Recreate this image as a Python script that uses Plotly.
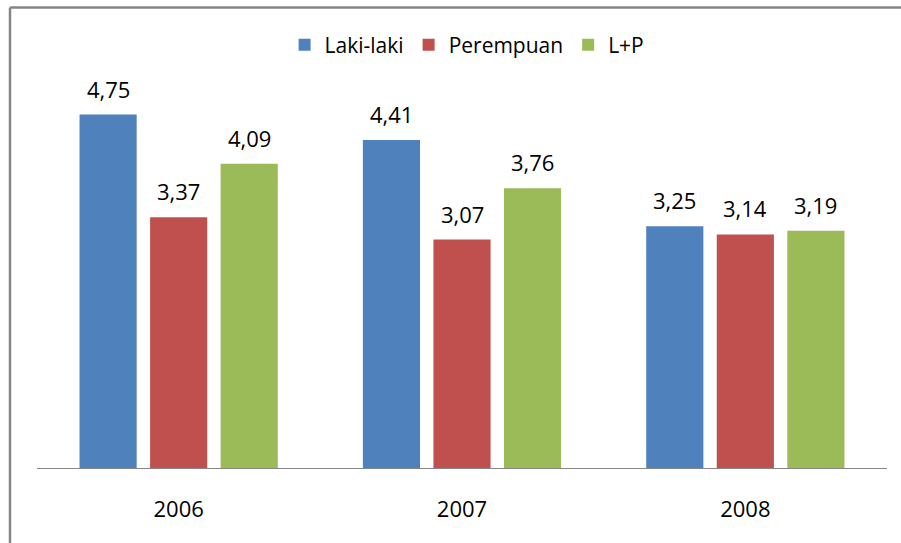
import plotly.graph_objects as go

years = ["2006", "2007", "2008"]
series_names = ["Laki-laki", "Perempuan", "L+P"]
laki = [4.75, 4.41, 3.25]
perempuan = [3.37, 3.07, 3.14]
lp = [4.09, 3.76, 3.19]
colors = ["#4F81BD", "#C0504D", "#9BBB59"]

all_series = [laki, perempuan, lp]

W, H = 901, 543
ml, mr, mt, mb = 37, 14, 96, 75
plot_w = W - ml - mr
cat_w = plot_w / len(years)
bargap = 0.253
slot = cat_w * (1 - bargap) / 3

FONT = "Open Sans"

fig = go.Figure()
for name, vals, col in zip(series_names, all_series, colors):
    fig.add_trace(go.Bar(x=years, y=vals, name=name, marker_color=col,
                         marker_line_width=0))

annotations = []
for i, vals in enumerate(all_series):
    for j, v in enumerate(vals):
        annotations.append(dict(
            x=j, y=v, xref="x", yref="y", text=f"{v:.2f}".replace(".", ","),
            showarrow=False, xshift=(i - 1) * slot, yshift=26,
            yanchor="middle", font=dict(family=FONT, size=22, color="#000000")))

plot_h = H - mt - mb
fig.update_layout(
    width=W, height=H,
    margin=dict(l=ml, r=mr, t=mt, b=mb),
    paper_bgcolor="white", plot_bgcolor="white",
    barmode="group", bargap=bargap, bargroupgap=0.19,
    font=dict(family=FONT, size=20, color="#000000"),
    showlegend=True,
    legend=dict(orientation="h", x=0.506, xanchor="center",
                y=1 + (mt - 45) / plot_h, yanchor="middle",
                font=dict(family=FONT, size=21, color="#000000"),
                bgcolor="rgba(0,0,0,0)"),
    xaxis=dict(type="category", range=[-0.5, len(years) - 0.5],
               showline=True, linecolor="#868686", linewidth=1,
               ticks="", showgrid=False, zeroline=False,
               tickfont=dict(family=FONT, size=22, color="#000000"),
               ticklabelstandoff=22),
    yaxis=dict(visible=False, range=[0, 5], showgrid=False, zeroline=False),
    annotations=annotations,
    shapes=[
        dict(type="line", xref="paper", yref="paper",
             x0=(10 - ml) / plot_w, x1=(W + 5 - ml) / plot_w,
             y0=1 + (mt - 7.5) / plot_h, y1=1 + (mt - 7.5) / plot_h,
             line=dict(color="#868686", width=2.5)),
        dict(type="line", xref="paper", yref="paper",
             x0=(10 - ml) / plot_w, x1=(10 - ml) / plot_w,
             y0=-(mb + 5) / plot_h, y1=1 + (mt - 7.5) / plot_h,
             line=dict(color="#868686", width=2.5)),
    ],
)

fig.write_html("out.html", config={"displayModeBar": False},
               post_script="document.body.style.margin='0';")
